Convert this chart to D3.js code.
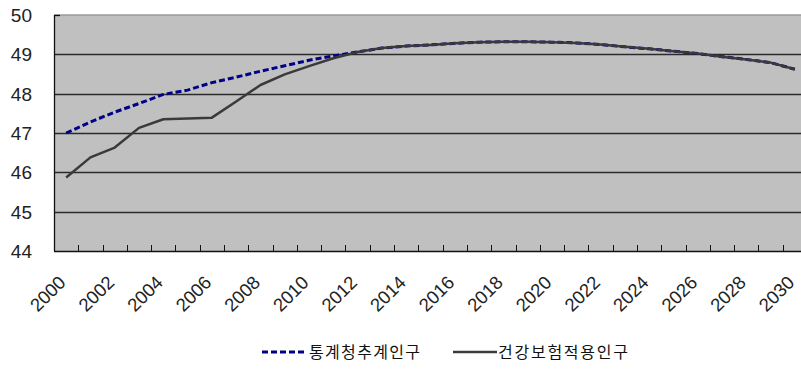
<!DOCTYPE html>
<html>
<head>
<meta charset="utf-8">
<script src="https://cdn.jsdelivr.net/npm/d3@7"></script>
<style>
  html, body { margin: 0; padding: 0; background: #fff; }
  svg { display: block; }
</style>
</head>
<body>
<svg id="chart" width="801" height="370"></svg>
<script>
// Years on the category axis (2000–2030)
const years = d3.range(2000, 2031);

// Population (millions): Statistics Korea projection
const statProjection = [
  47.00, 47.28, 47.53, 47.75, 47.98, 48.09, 48.28, 48.42, 48.57, 48.71,
  48.85, 48.96, 49.06, 49.16, 49.21, 49.24, 49.28, 49.31, 49.32, 49.32,
  49.31, 49.29, 49.25, 49.19, 49.14, 49.08, 49.02, 48.94, 48.87, 48.79,
  48.62
];

// Population (millions): covered by national health insurance
const insuredPopulation = [
  45.87, 46.38, 46.63, 47.13, 47.35, 47.37, 47.39, 47.80, 48.22, 48.49,
  48.70, 48.90, 49.06, 49.16, 49.21, 49.24, 49.28, 49.31, 49.32, 49.32,
  49.31, 49.29, 49.25, 49.19, 49.14, 49.08, 49.02, 48.94, 48.87, 48.79,
  48.62
];

const seriesNames = ["통계청추계인구", "건강보험적용인구"];
const yTicks = [44, 45, 46, 47, 48, 49, 50];
const xLabelYears = years.filter(y => y % 2 === 0);

const svg = d3.select("#chart");
const plot = { left: 54, right: 807, top: 15, bottom: 251 };

const x = d3.scaleBand().domain(years).range([plot.left, plot.right]).paddingInner(0).paddingOuter(0);
const y = d3.scaleLinear().domain([44, 50]).range([plot.bottom, plot.top]);
const cx = d => x(d) + x.bandwidth() / 2;

// plot background
svg.append("rect")
  .attr("x", plot.left).attr("y", plot.top)
  .attr("width", plot.right - plot.left).attr("height", plot.bottom - plot.top)
  .attr("fill", "#c0c0c0");

// top border
svg.append("line")
  .attr("x1", plot.left).attr("x2", plot.right)
  .attr("y1", y(50)).attr("y2", y(50))
  .attr("stroke", "#9a9a9a").attr("stroke-width", 1.5);

// horizontal gridlines
svg.append("g").selectAll("line")
  .data(yTicks.filter(t => t > 44 && t < 50))
  .join("line")
  .attr("x1", plot.left).attr("x2", plot.right)
  .attr("y1", d => Math.round(y(d)) + 0.5).attr("y2", d => Math.round(y(d)) + 0.5)
  .attr("stroke", "#2b2b2b").attr("stroke-width", 1.6);

// y-axis line and the short inner tick at the top
svg.append("line")
  .attr("x1", plot.left + 0.5).attr("x2", plot.left + 0.5)
  .attr("y1", plot.top).attr("y2", plot.bottom)
  .attr("stroke", "#111").attr("stroke-width", 1.3);
svg.append("line")
  .attr("x1", plot.left).attr("x2", plot.left + 6)
  .attr("y1", y(50) + 0.5).attr("y2", y(50) + 0.5)
  .attr("stroke", "#111").attr("stroke-width", 1.3);

// y tick labels
svg.append("g").selectAll("text")
  .data(yTicks)
  .join("text")
  .attr("x", 32).attr("y", d => y(d))
  .attr("dy", "0.36em")
  .attr("text-anchor", "end")
  .attr("font-family", "Liberation Sans, Arial, sans-serif")
  .attr("font-size", 19)
  .attr("fill", "#222")
  .text(d => d);

// x-axis line with inward ticks at category boundaries
svg.append("line")
  .attr("x1", plot.left).attr("x2", plot.right)
  .attr("y1", plot.bottom + 0.5).attr("y2", plot.bottom + 0.5)
  .attr("stroke", "#111").attr("stroke-width", 1.5);
svg.append("g").selectAll("line")
  .data(years.slice(1))
  .join("line")
  .attr("x1", d => Math.round(x(d)) + 0.5).attr("x2", d => Math.round(x(d)) + 0.5)
  .attr("y1", plot.bottom - 6).attr("y2", plot.bottom)
  .attr("stroke", "#111").attr("stroke-width", 1);

// x tick labels, rotated
svg.append("g").selectAll("text")
  .data(xLabelYears)
  .join("text")
  .attr("transform", d => `translate(${cx(d) - 4},${plot.bottom + 28}) rotate(-45)`)
  .attr("text-anchor", "end")
  .attr("dy", "0.36em")
  .attr("font-family", "Liberation Sans, Arial, sans-serif")
  .attr("font-size", 18.5)
  .attr("fill", "#222")
  .text(d => d);

const line = d3.line().x((d, i) => cx(years[i])).y(d => y(d));

// projection (dashed navy), drawn beneath
svg.append("path")
  .datum(statProjection)
  .attr("d", line)
  .attr("fill", "none")
  .attr("stroke", "#000088")
  .attr("stroke-width", 3)
  .attr("stroke-dasharray", "6,3");

// insured population (solid dark gray)
svg.append("path")
  .datum(insuredPopulation)
  .attr("d", line)
  .attr("fill", "none")
  .attr("stroke", "#3a3a3a")
  .attr("stroke-width", 2.5)
  .attr("stroke-linejoin", "round");

// legend
const legend = svg.append("g").attr("font-family", "Noto Sans CJK KR, sans-serif").attr("font-size", 16).attr("fill", "#111");
legend.append("line")
  .attr("x1", 262).attr("x2", 307).attr("y1", 352).attr("y2", 352)
  .attr("stroke", "#000088").attr("stroke-width", 3).attr("stroke-dasharray", "6,3");
legend.append("text").attr("x", 309).attr("y", 352).attr("dy", "0.36em")
  .attr("textLength", 111).attr("lengthAdjust", "spacing").text(seriesNames[0]);
legend.append("line")
  .attr("x1", 453).attr("x2", 497).attr("y1", 352).attr("y2", 352)
  .attr("stroke", "#3a3a3a").attr("stroke-width", 2.5);
legend.append("text").attr("x", 498).attr("y", 352).attr("dy", "0.36em")
  .attr("textLength", 130).attr("lengthAdjust", "spacing").text(seriesNames[1]);
</script>
</body>
</html>
